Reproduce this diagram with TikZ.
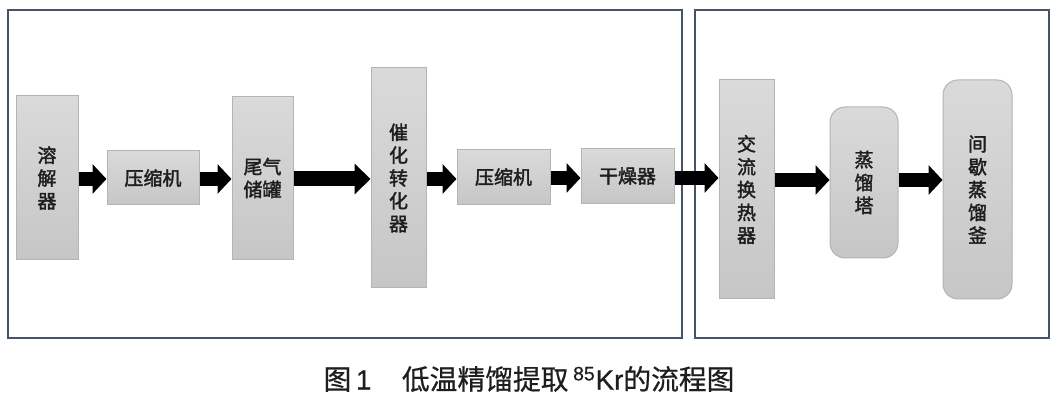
\documentclass[tikz,border=0pt]{standalone}
\usepackage{fontspec}
\usetikzlibrary{arrows.meta}
\newfontfamily\cjk[FakeBold=0.6]{Noto Sans CJK SC}
\newfontfamily\cjkbold[FakeBold=2]{Noto Sans CJK SC}
\newfontfamily\latin[FakeBold=0.6]{Liberation Sans}
\definecolor{framec}{HTML}{44536A}
\definecolor{boxtop}{HTML}{DADADA}
\definecolor{boxbot}{HTML}{C6C6C6}
\definecolor{boxline}{HTML}{B4B4B4}
\definecolor{txt}{HTML}{1E1E1E}
\tikzset{
  unit/.style={draw=boxline, line width=0.02cm, top color=boxtop, bottom color=boxbot,
    inner sep=0pt, align=center, text=txt,
    font=\cjkbold\fontsize{10.8}{13}\selectfont},
  rbox/.style={unit, rounded corners=0.3cm},
  frame/.style={draw=framec, line width=0.04cm},
  flow/.style={draw=black, line width=0.27cm, -{Triangle[length=0.28cm,width=0.58cm]}},
  flowb/.style={draw=black, line width=0.3cm, -{Triangle[length=0.32cm,width=0.6cm]}}
}
\begin{document}
\begin{tikzpicture}[x=0.02cm,y=-0.02cm]
\fill[white] (0,0) rectangle (1060,404);
\useasboundingbox (0,0) rectangle (1060,404);
% frames
\node[frame, minimum width=674*0.02cm, minimum height=328*0.02cm, inner sep=0pt] (left) at (345,174) {};
\node[frame, minimum width=354*0.02cm, minimum height=328*0.02cm, inner sep=0pt] (right) at (872,174) {};
% units
\node[unit, minimum width=62*0.02cm, minimum height=164*0.02cm] (dis) at (47,178) {溶\\解\\器};
\node[unit, minimum width=92*0.02cm, minimum height=54*0.02cm] (cpa) at (153,178) {压缩机};
\node[unit, minimum width=61*0.02cm, minimum height=163*0.02cm] (tank) at (262.5,178) {尾气\\储罐};
\node[unit, minimum width=55*0.02cm, minimum height=220*0.02cm] (cat) at (398.5,178) {催\\化\\转\\化\\器};
\node[unit, minimum width=93*0.02cm, minimum height=55*0.02cm] (cpb) at (503.5,177) {压缩机};
\node[unit, minimum width=93*0.02cm, minimum height=55*0.02cm] (dry) at (627.5,176) {干燥器};
\node[unit, minimum width=55*0.02cm, minimum height=219*0.02cm] (hx) at (746.5,189.5) {交\\流\\换\\热\\器};
\node[rbox, minimum width=68*0.02cm, minimum height=151*0.02cm] (col) at (864,182.5) {蒸\\馏\\塔};
\node[rbox, minimum width=69*0.02cm, minimum height=219*0.02cm] (pot) at (977.5,189.5) {间\\歇\\蒸\\馏\\釜};
% connectors
\coordinate (h1) at (0,179);
\draw[flow] (dis.east |- h1) -- (cpa.west |- h1);
\draw[flow] (cpa.east |- h1) -- (tank.west |- h1);
\draw[flowb] (tank.east |- h1) -- (cat.west |- h1);
\draw[flow] (cat.east |- h1) -- (cpb.west |- h1);
\coordinate (h2) at (0,178);
\draw[flow] (cpb.east |- h2) -- (dry.west |- h2);
\draw[flow] (dry.east |- h2) -- (hx.west |- h2);
\coordinate (h3) at (0,180);
\draw[flow] (hx.east |- h3) -- (col.west |- h3);
\draw[flow] (col.east |- h3) -- (pot.west |- h3);
% caption
\node[font=\cjk\fontsize{15.8}{18}\selectfont, text=txt, inner sep=0pt] (cap) at (529,379)
  {图{\latin\,1}\hspace{1.1em}低温精馏提取\,{\latin\textsuperscript{85}Kr}的流程图};
\end{tikzpicture}
\end{document}
